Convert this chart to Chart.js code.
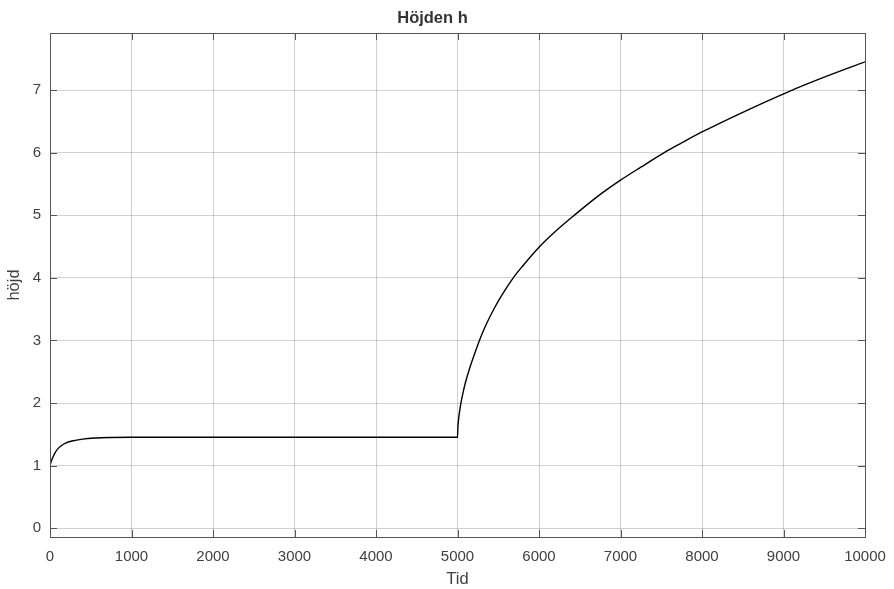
<!doctype html>
<html lang="sv">
<head>
    <meta charset="UTF-8">
    <title>Höjden h</title>
    <style>
        html, body { margin: 0; padding: 0; background: #fff; }
        #wrap { width: 894px; height: 589px; }
    </style>
</head>
<body>

<div id="wrap">
    <canvas id="hojd-chart" width="894" height="589"></canvas>
</div>

<script src="https://cdn.jsdelivr.net/npm/chart.js@4/dist/chart.umd.min.js"></script>
<script>
    // data
    const tid = [0, 10, 30, 60, 90, 130, 190, 270, 400, 550, 750, 1000, 3000, 5000,
        5005, 5010, 5020, 5042, 5070, 5100, 5150, 5200, 5275, 5350, 5450, 5550,
        5684, 5800, 6000, 6200, 6433, 6700, 7000, 7250, 7537, 7750, 8000, 8500,
        9073, 9500, 10000];
    const hojd = [1.0, 1.05, 1.12, 1.2, 1.26, 1.31, 1.36, 1.395, 1.425, 1.442, 1.451, 1.455, 1.455, 1.455,
        1.621, 1.699, 1.815, 2.0, 2.18, 2.34, 2.56, 2.75, 3.02, 3.25, 3.51, 3.735,
        4.0, 4.19, 4.49, 4.74, 5.0, 5.282, 5.56, 5.768, 6.0, 6.155, 6.33, 6.645,
        6.98, 7.205, 7.45];
    const xTicks = [0, 1000, 2000, 3000, 4000, 5000, 6000, 7000, 8000, 9000, 10000];
    const yTicks = [0, 1, 2, 3, 4, 5, 6, 7];

    const fontFamily = '"Liberation Sans", Arial, Helvetica, sans-serif';
    const axisColor = '#555';

    // MATLAB-like box with inward ticks
    const boxPlugin = {
        id: 'box',
        afterDatasetsDraw(chart) {
            const {ctx, chartArea: a, scales} = chart;
            const tl = 7;
            ctx.save();
            ctx.strokeStyle = axisColor;
            ctx.lineWidth = 1;
            ctx.beginPath();
            scales.x.ticks.forEach(t => {
                const px = Math.round(scales.x.getPixelForValue(t.value)) + 0.5;
                ctx.moveTo(px, a.bottom); ctx.lineTo(px, a.bottom - tl);
                ctx.moveTo(px, a.top); ctx.lineTo(px, a.top + tl);
            });
            scales.y.ticks.forEach(t => {
                const py = Math.round(scales.y.getPixelForValue(t.value)) + 0.5;
                ctx.moveTo(a.left, py); ctx.lineTo(a.left + tl, py);
                ctx.moveTo(a.right, py); ctx.lineTo(a.right - tl, py);
            });
            ctx.stroke();
            ctx.strokeRect(Math.round(a.left) + 0.5, Math.round(a.top) + 0.5,
                Math.round(a.right - a.left), Math.round(a.bottom - a.top));
            ctx.restore();
        }
    };

    new Chart(document.getElementById('hojd-chart'), {
        type: 'line',
        data: {
            datasets: [{
                data: tid.map((t, i) => ({x: t, y: hojd[i]})),
                borderColor: '#000',
                borderWidth: 1.4,
                pointRadius: 0,
                fill: false,
                cubicInterpolationMode: 'monotone'
            }]
        },
        options: {
            responsive: false,
            animation: false,
            layout: { padding: { left: 0, right: 29, top: 0, bottom: 0 } },
            plugins: {
                legend: { display: false },
                tooltip: { enabled: false },
                title: {
                    display: true,
                    text: 'Höjden h',
                    color: '#333',
                    font: { family: fontFamily, size: 16.5, weight: 'bold' },
                    padding: { top: 8.4, bottom: 4.8 }
                }
            },
            scales: {
                x: {
                    type: 'linear',
                    min: 0,
                    max: 10000,
                    afterFit: s => { s.height = 52; s.paddingLeft = 0; s.paddingRight = 0; },
                    afterBuildTicks: s => { s.ticks = xTicks.map(v => ({value: v})); },
                    grid: { color: 'rgba(0,0,0,0.18)', drawTicks: false },
                    border: { display: false },
                    ticks: {
                        color: '#404040',
                        padding: 11,
                        maxRotation: 0,
                        font: { family: fontFamily, size: 15 },
                        callback: v => String(v)
                    },
                    title: {
                        display: true,
                        text: 'Tid',
                        color: '#404040',
                        font: { family: fontFamily, size: 16.5 },
                        padding: { top: 0, bottom: 0 }
                    }
                },
                y: {
                    min: -0.139,
                    max: 7.911,
                    afterFit: s => { s.width = 50; },
                    afterBuildTicks: s => { s.ticks = yTicks.map(v => ({value: v})); },
                    grid: { color: 'rgba(0,0,0,0.18)', drawTicks: false },
                    border: { display: false },
                    ticks: {
                        color: '#404040',
                        padding: 9,
                        font: { family: fontFamily, size: 15 },
                        callback: v => String(v)
                    },
                    title: {
                        display: true,
                        text: 'höjd',
                        color: '#404040',
                        font: { family: fontFamily, size: 16.5 },
                        padding: { top: 5, bottom: 0 }
                    }
                }
            }
        },
        plugins: [boxPlugin]
    });
</script>
</body>
</html>
